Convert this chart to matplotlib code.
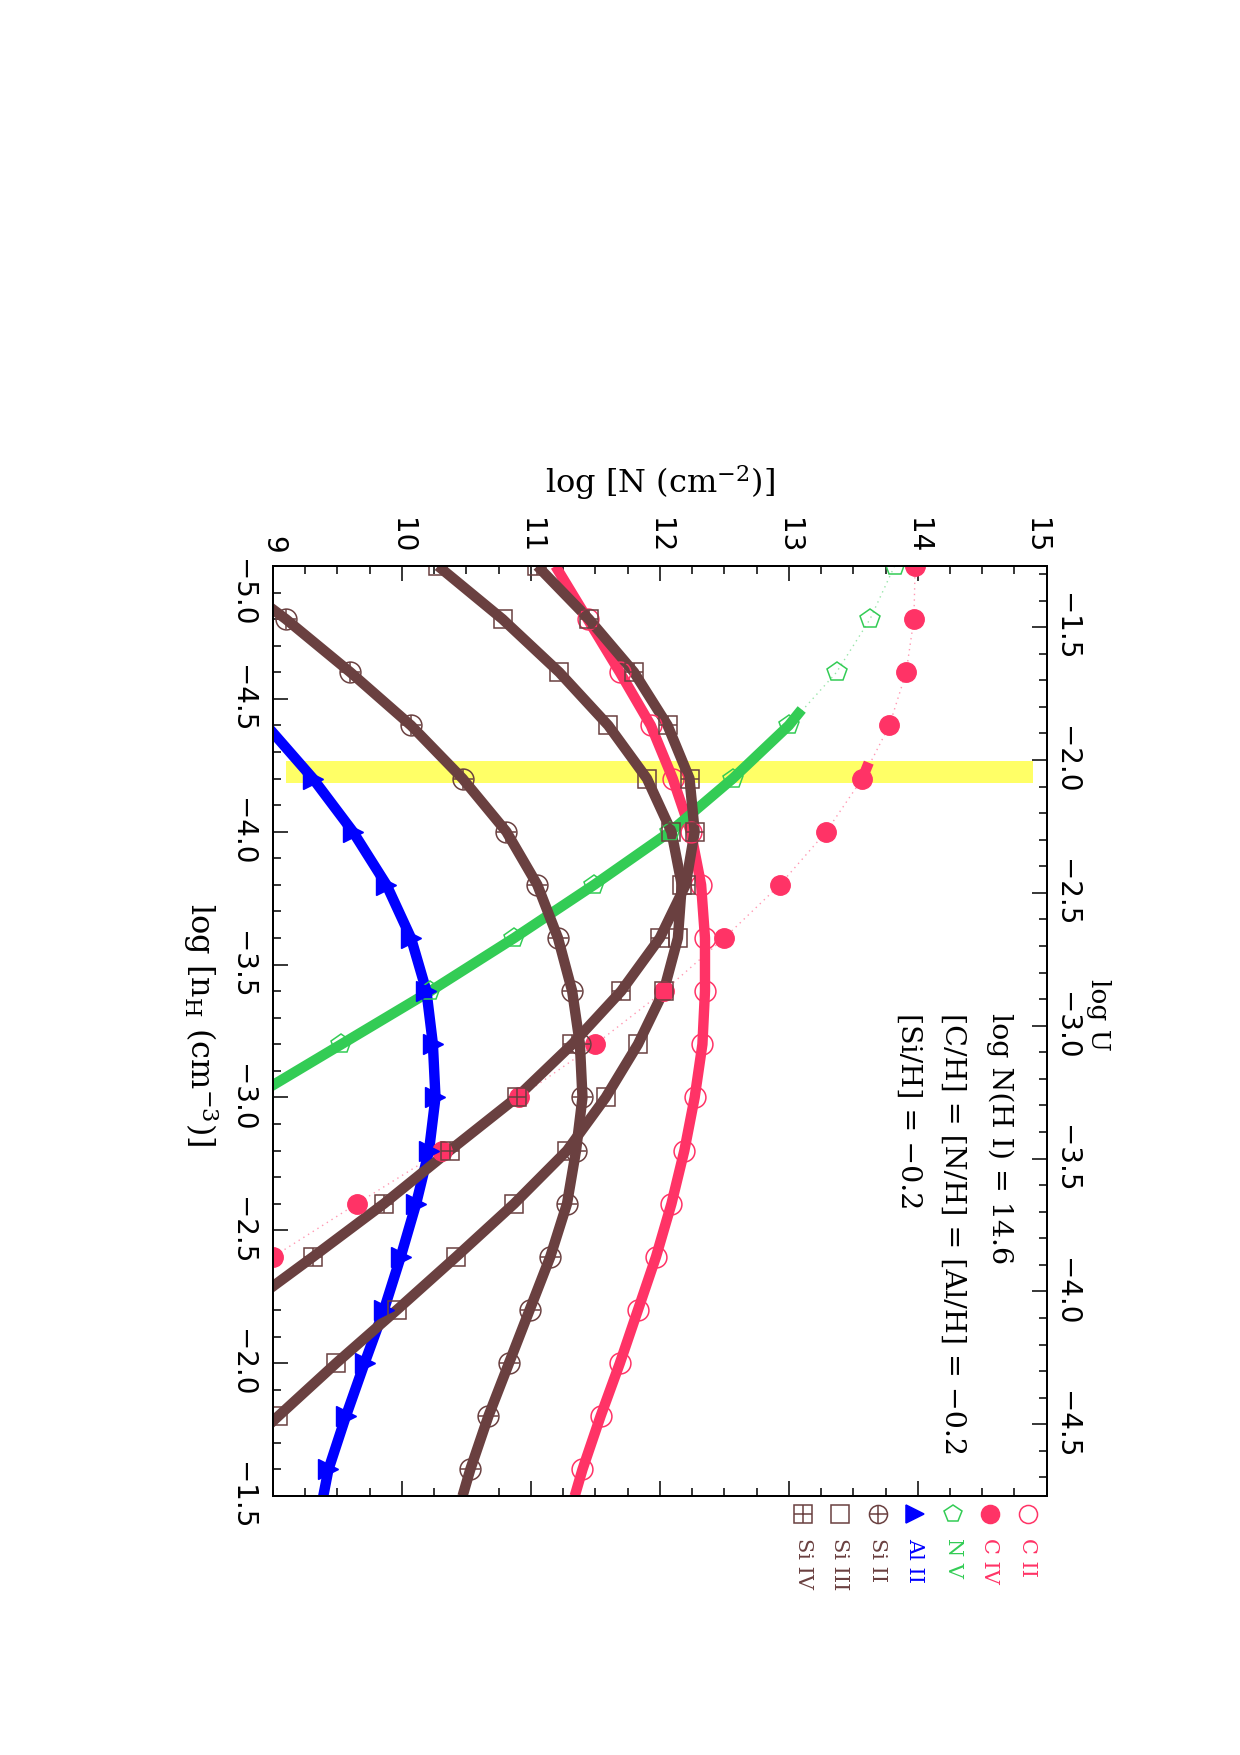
import numpy as np
import matplotlib
matplotlib.use("Agg")
import matplotlib.pyplot as plt
from matplotlib.lines import Line2D
from matplotlib.ticker import MultipleLocator
from matplotlib.transforms import ScaledTranslation

# ---------------- data ----------------
nh_grid = [-5.0, -4.8, -4.6, -4.4, -4.2, -4.0, -3.8, -3.6, -3.4, -3.2,
           -3.0, -2.8, -2.6, -2.4, -2.2, -2.0, -1.8, -1.6, -1.5]

# C II (open circles, thick line)
c2_nh = nh_grid
c2_logn = [11.19, 11.44, 11.69, 11.93, 12.10, 12.24, 12.32, 12.35, 12.35, 12.33,
           12.27, 12.19, 12.09, 11.97, 11.83, 11.69, 11.54, 11.40, 11.34]
c2_mark_nh = nh_grid[1:18]
c2_mark = c2_logn[1:18]

# C IV (filled circles, dotted line, short thick piece)
c4_nh = [-5.0, -4.8, -4.6, -4.4, -4.2, -4.0, -3.8, -3.6, -3.4, -3.2, -3.0, -2.8, -2.6, -2.4]
c4_logn = [13.98, 13.97, 13.91, 13.78, 13.57, 13.29, 12.93, 12.50, 12.03, 11.50,
           10.91, 10.31, 9.65, 9.00]
c4_thick_nh = [-4.26, -4.2]
c4_thick_logn = [13.62, 13.57]

# N V (open pentagons, dotted line, thick segment)
n5_nh = [-5.0, -4.8, -4.6, -4.4, -4.2, -4.0, -3.8, -3.6, -3.4, -3.2]
n5_logn = [13.82, 13.63, 13.37, 13.00, 12.565, 12.08, 11.49, 10.87, 10.22, 9.53]
n5_thick_nh = [-4.46, -4.4, -4.2, -4.0, -3.8, -3.6, -3.4, -3.2, -3.0]
n5_thick_logn = [13.10, 13.00, 12.565, 12.08, 11.49, 10.87, 10.22, 9.53, 8.84]

# Al II (filled triangles, thick line)
al2_nh = [-4.4, -4.2, -4.0, -3.8, -3.6, -3.4, -3.2, -3.0, -2.8, -2.6, -2.4,
          -2.2, -2.0, -1.8, -1.6, -1.5]
al2_logn = [8.95, 9.31, 9.62, 9.88, 10.07, 10.19, 10.24, 10.26, 10.21, 10.11, 9.99,
            9.86, 9.71, 9.565, 9.43, 9.39]

# Si II (circle with plus, thick line)
si2_nh = nh_grid
si2_logn = [8.55, 9.10, 9.60, 10.07, 10.47, 10.81, 11.05, 11.21, 11.32, 11.38,
            11.40, 11.35, 11.28, 11.15, 10.99, 10.83, 10.67, 10.53, 10.47]

# Si III (open squares, thick line)
si3_nh = [-5.0, -4.8, -4.6, -4.4, -4.2, -4.0, -3.8, -3.6, -3.4, -3.2, -3.0,
          -2.8, -2.6, -2.4, -2.2, -2.0, -1.8, -1.6]
si3_logn = [10.28, 10.78, 11.22, 11.60, 11.90, 12.09, 12.17, 12.14, 12.03, 11.83,
            11.58, 11.28, 10.87, 10.42, 9.96, 9.49, 9.04, 8.60]

# Si IV (square with plus, thick line)
si4_nh = [-5.0, -4.8, -4.6, -4.4, -4.2, -4.0, -3.8, -3.6, -3.4, -3.2, -3.0,
          -2.8, -2.6, -2.4, -2.2]
si4_logn = [11.05, 11.45, 11.80, 12.06, 12.23, 12.27, 12.20, 12.00, 11.70, 11.32,
            10.89, 10.37, 9.86, 9.31, 8.75]

# highlighted band (log n_H range) and its log N extent
band_nh = [-4.266, -4.185]
band_logn = [9.10, 14.89]

# log U = LOGU_OFFSET - log n_H
LOGU_OFFSET = -6.27

legend_labels = ["C II", "C IV", "N V", "Al II", "Si II", "Si III", "Si IV"]
annot_lines = ["log N(H I) = 14.6",
               "[C/H] = [N/H] = [Al/H] = \u22120.2",
               "[Si/H] = \u22120.2"]

# ---------------- style ----------------
PINK = "#ff3366"
BROWN = "#6a4040"
GREEN = "#33cc55"
BLUE = "#0000ff"
YELLOW = "#ffff66"
SERIF = ["DejaVu Serif"]
SANS = ["DejaVu Sans"]
plt.rcParams["mathtext.fontset"] = "dejavuserif"
plt.rcParams["font.family"] = SANS

W, H = 1240, 1755
fig = plt.figure(figsize=(W / 100, H / 100), dpi=100)
L, R, T, B = 273, 1046.7, 566, 1496
ax = fig.add_axes([L / W, 1 - B / H, (R - L) / W, (B - T) / H])

ax.set_xlim(9, 15)
ax.set_ylim(-1.5, -5.0)

LW = 7.5
MS = 15
MSQ = 13.5
MEW = 1.1

# yellow band
ax.fill_between(band_logn, band_nh[0], band_nh[1], color=YELLOW, lw=0, zorder=1)

# C II
ax.plot(c2_logn, c2_nh, color=PINK, lw=LW, solid_capstyle="butt", zorder=3)
ax.plot(c2_mark, c2_mark_nh, ls="none", marker="o", ms=MS, mfc="none", mec=PINK, mew=MEW, zorder=6)
# C IV
ax.plot(c4_logn, c4_nh, color=PINK, lw=1.0, ls=(0, (1, 3)), alpha=0.5, zorder=2)
ax.plot(c4_thick_logn, c4_thick_nh, color=PINK, lw=LW, solid_capstyle="butt", zorder=3)
ax.plot(c4_logn, c4_nh, ls="none", marker="o", ms=14, mfc=PINK, mec=PINK, zorder=6)
# N V
ax.plot(n5_logn, n5_nh, color=GREEN, lw=1.0, ls=(0, (1, 3)), alpha=0.5, zorder=2)
ax.plot(n5_thick_logn, n5_thick_nh, color=GREEN, lw=LW, solid_capstyle="butt", zorder=3)
ax.plot(n5_logn, n5_nh, ls="none", marker="p", ms=MS, mfc="none", mec=GREEN, mew=MEW, zorder=6)
# Al II
ax.plot(al2_logn, al2_nh, color=BLUE, lw=LW, solid_capstyle="butt", zorder=3)
ax.plot(al2_logn[1:15], al2_nh[1:15], ls="none", marker=">", ms=14, mfc=BLUE, mec=BLUE, zorder=6)
# Si II
ax.plot(si2_logn, si2_nh, color=BROWN, lw=LW, solid_capstyle="butt", zorder=4)
ax.plot(si2_logn[1:18], si2_nh[1:18], ls="none", marker="o", ms=MS, mfc="none", mec=BROWN, mew=MEW, zorder=6)
ax.plot(si2_logn[1:18], si2_nh[1:18], ls="none", marker="+", ms=MS, mec=BROWN, mew=MEW, zorder=6)
# Si III
ax.plot(si3_logn, si3_nh, color=BROWN, lw=LW, solid_capstyle="butt", zorder=4)
ax.plot(si3_logn, si3_nh, ls="none", marker="s", ms=MSQ, mfc="none", mec=BROWN, mew=MEW, zorder=6)
# Si IV
ax.plot(si4_logn, si4_nh, color=BROWN, lw=LW, solid_capstyle="butt", zorder=4)
ax.plot(si4_logn, si4_nh, ls="none", marker="s", ms=MSQ, mfc="none", mec=BROWN, mew=MEW, zorder=6)
ax.plot(si4_logn, si4_nh, ls="none", marker="+", ms=MSQ, mec=BROWN, mew=MEW, zorder=6)

# ---------------- axes / ticks ----------------
for sp in ax.spines.values():
    sp.set_linewidth(1.4)
    sp.set_zorder(10)

ax.xaxis.set_major_locator(MultipleLocator(1))
ax.xaxis.set_minor_locator(MultipleLocator(0.25))
ax.yaxis.set_major_locator(MultipleLocator(0.5))
ax.yaxis.set_minor_locator(MultipleLocator(0.1))
ax.tick_params(axis="x", which="both", direction="in", top=True, bottom=True,
               labeltop=True, labelbottom=False, labelrotation=-90, labelsize=20, pad=9)
ax.tick_params(axis="y", which="both", direction="in", left=True, right=False,
               labelleft=True, labelright=False, labelrotation=-90, labelsize=20, pad=12)
ax.tick_params(which="major", length=11, width=1.1)
ax.tick_params(which="minor", length=6, width=1.1)

ax2 = ax.twinx()
ax2.set_ylim(LOGU_OFFSET - ax.get_ylim()[0], LOGU_OFFSET - ax.get_ylim()[1])
ax2.yaxis.set_major_locator(MultipleLocator(0.5))
ax2.yaxis.set_minor_locator(MultipleLocator(0.1))
ax2.tick_params(axis="y", which="both", direction="in", right=True, left=False,
                labelright=True, labelleft=False, labelrotation=-90, labelsize=20, pad=4)
ax2.tick_params(which="major", length=11, width=1.1)
ax2.tick_params(which="minor", length=6, width=1.1)
for sp in ax2.spines.values():
    sp.set_linewidth(1.4)

fig.canvas.draw()
for lbl in ax.get_yticklabels() + ax2.get_yticklabels():
    lbl.set_va("center")
# nudge corner labels inward (as in the reference)
for t in ax.xaxis.get_major_ticks():
    if abs(t.get_loc() - 15) < 1e-6:
        t.label2.set_transform(t.label2.get_transform() +
                               ScaledTranslation(-0.11, 0, fig.dpi_scale_trans))
for t in ax.yaxis.get_major_ticks():
    if abs(t.get_loc() + 5.0) < 1e-6:
        t.label1.set_transform(t.label1.get_transform() +
                               ScaledTranslation(0, -0.27, fig.dpi_scale_trans))

# axis labels
fig.text(660 / W, 1 - 482 / H, r"log [N (cm$^{-2}$)]", family=SERIF, fontsize=23,
         ha="center", va="center")
fig.text(200 / W, 1 - 1025 / H, r"log [n$_{\mathrm{H}}$ (cm$^{-3}$)]", family=SERIF,
         fontsize=23, rotation=-90, ha="center", va="center")
fig.text(1099 / W, 1 - 1015 / H, "log U", family=SERIF, fontsize=19, rotation=-90,
         ha="center", va="center")

# annotations inside the panel
for txt, xp in zip(annot_lines, [1000, 953, 909]):
    fig.text(xp / W, 1 - 1013 / H, txt, family=SERIF, fontsize=20.5, rotation=-90,
             ha="center", va="top")

# legend (below panel, rotated layout)
leg_x = [1028, 990, 953, 915, 878, 840, 803]
leg_col = [PINK, PINK, GREEN, BLUE, BROWN, BROWN, BROWN]
leg_mk = [("o", "none"), ("o", "fill"), ("p", "none"), (">", "fill"),
          ("o", "none"), ("s", "none"), ("s", "none")]
leg_plus = [False, False, False, False, True, False, True]
for x, c, (m, f), plus, lab in zip(leg_x, leg_col, leg_mk, leg_plus, legend_labels):
    fx, fy = x / W, 1 - 1514 / H
    fig.add_artist(Line2D([fx], [fy], transform=fig.transFigure, ls="none", marker=m,
                          ms=13, mec=c, mfc=(c if f == "fill" else "none"), mew=1.1))
    if plus:
        fig.add_artist(Line2D([fx], [fy], transform=fig.transFigure, ls="none", marker="+",
                              ms=13, mec=c, mew=1.1))
    fig.text(fx, 1 - 1538 / H, lab, family=SERIF, fontsize=15, color=c, rotation=-90,
             ha="center", va="top")

fig.savefig("out.png", dpi=100)
